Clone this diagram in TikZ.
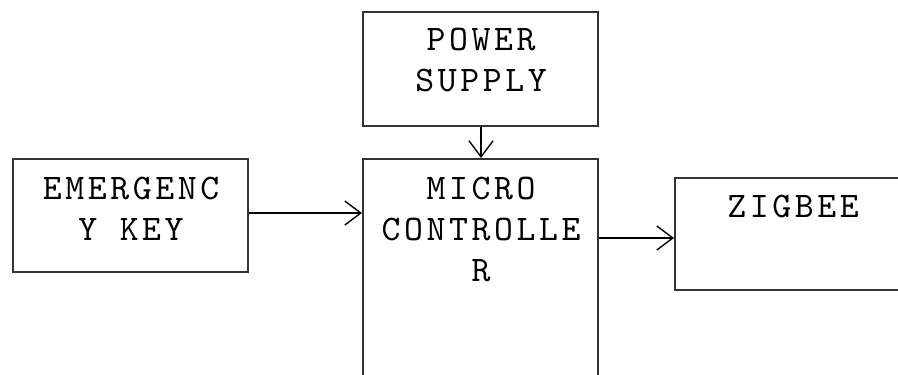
\documentclass[tikz,border=0pt]{standalone}
\usepackage{fontspec}
\newfontfamily\courfont{lmmono10-regular}[Extension=.otf,LetterSpace=10]
\usetikzlibrary{arrows.meta}
\begin{document}
\begin{tikzpicture}[x=1pt,y=-1pt,
  blockbox/.style={draw=black!80,line width=1.6pt,inner sep=0pt,anchor=north west},
  lbl/.style={anchor=north,inner sep=0pt,align=center,font=\courfont\fontsize{36}{41}\selectfont},
  conn/.style={line width=1.4pt,-{Straight Barb[length=16pt,width=24pt,line width=1.4pt]}}]
\useasboundingbox (0,0) rectangle (898,375);
\clip (0,0) rectangle (898,375);
\fill[white] (0,0) rectangle (898,375);
\node[blockbox,minimum width=235pt,minimum height=113pt] (key) at (12,158) {};
\node[blockbox,minimum width=235pt,minimum height=114pt] (pwr) at (362,11) {};
\node[blockbox,minimum width=235pt,minimum height=280pt] (mcu) at (362,158) {};
\node[blockbox,minimum width=240pt,minimum height=112pt] (zig) at (674,177) {};
\node[lbl] (keyt) at (131,177) {EMERGENC\\Y KEY};
\node[lbl] (pwrt) at (481,28) {POWER\\SUPPLY};
\node[lbl] (mcut) at (481,177) {MICRO\\CONTROLLE\\R};
\node[lbl] (zigt) at (793,195) {ZIGBEE};
\draw[conn] (key.east |- 0,213) -- (mcu.west |- 0,213);
\draw[conn] (pwr.south -| 481,0) -- (mcu.north -| 481,0);
\draw[conn] (mcu.east |- 0,238) -- (zig.west |- 0,238);
\end{tikzpicture}
\end{document}
